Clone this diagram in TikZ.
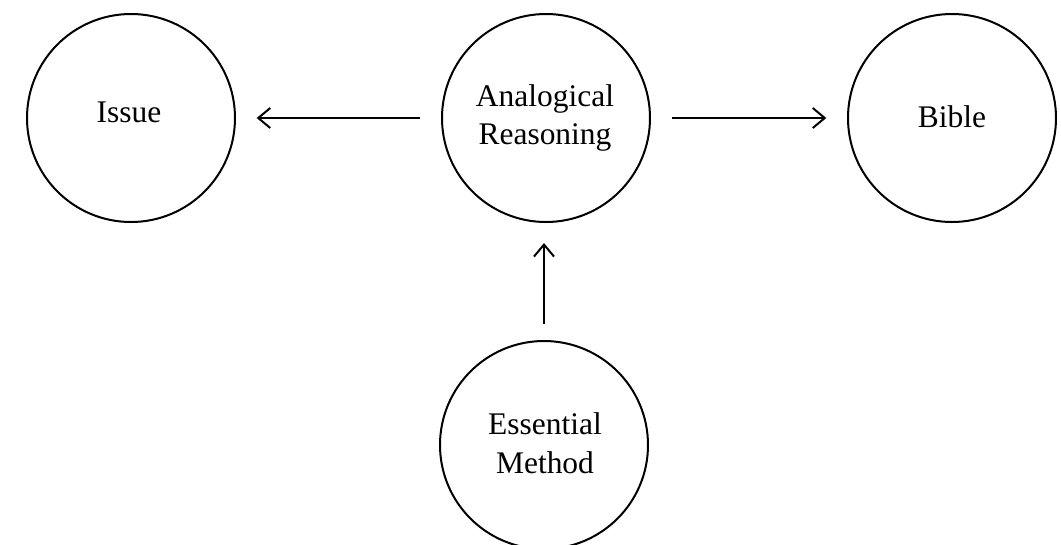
\documentclass[tikz,border=0pt]{standalone}
\usepackage{fontspec}
\setmainfont{Liberation Serif}
\usetikzlibrary{arrows.meta}
\begin{document}
\begin{tikzpicture}[x=0.75pt,y=-0.75pt,
  bubble/.style={circle, draw, line width=1.5pt, minimum size=156pt, inner sep=0pt},
  caption/.style={anchor=base, inner sep=0pt, font=\fontsize{23.6}{28.5}\selectfont},
  flow/.style={line width=1.5pt, -{Straight Barb[length=9pt,width=15pt]},
               shorten <=15.5pt, shorten >=15.5pt}]
\useasboundingbox (0,0) rectangle (1061,544);

% the four concepts
\node[bubble] (iss) at (131,118) {};
\node[bubble] (ana) at (546,118) {};
\node[bubble] (bib) at (952,118) {};
\node[bubble] (ess) at (544,445) {};

% their labels
\node[caption] (issT)  at (129,122) {Issue};
\node[caption] (anaT1) at (545,106) {Analogical};
\node[caption] (anaT2) at (545,144) {Reasoning};
\node[caption] (bibT)  at (952,127) {Bible};
\node[caption] (essT1) at (545,434) {Essential};
\node[caption] (essT2) at (545,473) {Method};

% relations
\draw[flow] (ana.west) -- (iss.east);
\draw[flow] (ana.east) -- (bib.west);
\draw[flow, shorten <=12pt, shorten >=15pt] (ess.north) -- (ess.north |- ana.south);
\end{tikzpicture}
\end{document}
